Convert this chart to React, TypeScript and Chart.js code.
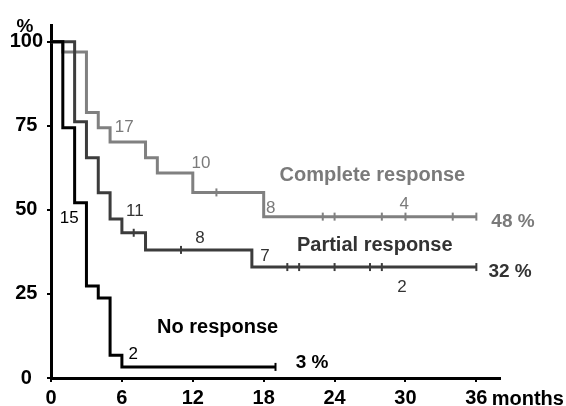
import React, { useEffect, useRef } from "react";
import { Chart, registerables } from "chart.js";

Chart.register(...registerables);

// Axis ticks
const X_TICKS = [0, 6, 12, 18, 24, 30, 36];
const Y_TICKS = [0, 25, 50, 75, 100];

// Complete response (Kaplan-Meier steps: month of drop, survival after drop)
const COMPLETE_MONTHS = [0, 1, 3, 4, 5, 8, 9, 12, 18, 36];
const COMPLETE_SURV = [100, 97, 79, 74.4, 70.2, 65.5, 61, 55.2, 48, 48];
const COMPLETE_CENSORED = [14, 23, 24, 28, 30, 34, 36];

// Partial response
const PARTIAL_MONTHS = [0, 2, 3, 4, 5, 6, 8, 17, 36];
const PARTIAL_SURV = [100, 76.2, 65.5, 55.1, 47.3, 43.2, 38.1, 33, 33];
const PARTIAL_CENSORED = [7, 11, 20, 21, 24, 27, 28, 36];

// No response
const NONE_MONTHS = [0, 1, 2, 3, 4, 5, 6, 19];
const NONE_SURV = [100, 74.4, 52.1, 27.4, 23.8, 6.8, 3.3, 3.3];
const NONE_CENSORED = [19];

// Numbers at risk and labels (text, month, percent)
const COMPLETE_AT_RISK = ["17", "10", "8", "4"];
const COMPLETE_AT_RISK_M = [6.2, 12.7, 18.6, 29.9];
const COMPLETE_AT_RISK_P = [75, 64.3, 50.9, 52.1];

const PARTIAL_AT_RISK = ["11", "8", "7", "2"];
const PARTIAL_AT_RISK_M = [7.1, 12.6, 18.1, 29.7];
const PARTIAL_AT_RISK_P = [50, 42, 36.6, 27.4];

const NONE_AT_RISK = ["15", "2"];
const NONE_AT_RISK_M = [1.55, 6.95];
const NONE_AT_RISK_P = [47.9, 7.4];

const GROUP_NAMES = ["Complete response", "Partial response", "No response"];
const GROUP_NAME_M = [27.2, 27.4, 14.1];
const GROUP_NAME_P = [60.7, 39.9, 15.6];

const FINAL_LABELS = ["48 %", "32 %", "3 %"];
const FINAL_LABEL_M = [39.1, 38.85, 22.1];
const FINAL_LABEL_P = [47, 32.1, 5.1];

const COLORS = ["#808080", "#3c3c3c", "#000000"];
const TEXT_COLORS = ["#7a7a7a", "#333333", "#000000"];
const FONT = '"Liberation Sans", Arial, Helvetica, sans-serif';

function stepValue(months: number[], surv: number[], t: number) {
  let v = surv[0];
  for (let i = 0; i < months.length; i++) if (months[i] <= t) v = surv[i];
  return v;
}

function lineDataset(label: string, months: number[], surv: number[], color: string, order: number) {
  return {
    label,
    data: months.map((m, i) => ({ x: m, y: surv[i] })),
    borderColor: color,
    backgroundColor: color,
    borderWidth: 3,
    pointRadius: 0,
    stepped: "before" as const,
    fill: false,
    clip: false,
    order,
    borderCapStyle: "butt" as const,
    borderJoinStyle: "miter" as const,
  };
}

function censorDataset(label: string, months: number[], surv: number[], censored: number[], color: string, order: number) {
  return {
    label,
    data: censored.map((t) => ({ x: t, y: stepValue(months, surv, t) })),
    showLine: false,
    pointStyle: "line" as const,
    rotation: 90,
    pointRadius: 4,
    pointBorderWidth: 2,
    borderColor: color,
    backgroundColor: color,
    clip: false,
    order,
  };
}

type Annot = { text: string; m: number; p: number; size: number; bold: boolean; color: string; align?: CanvasTextAlign };

function buildAnnotations(): Annot[] {
  const out: Annot[] = [];
  const groups = [
    [COMPLETE_AT_RISK, COMPLETE_AT_RISK_M, COMPLETE_AT_RISK_P],
    [PARTIAL_AT_RISK, PARTIAL_AT_RISK_M, PARTIAL_AT_RISK_P],
    [NONE_AT_RISK, NONE_AT_RISK_M, NONE_AT_RISK_P],
  ] as [string[], number[], number[]][];
  groups.forEach(([t, m, p], g) => {
    t.forEach((s, i) => out.push({ text: s, m: m[i], p: p[i], size: 17, bold: false, color: TEXT_COLORS[g] }));
    out.push({ text: GROUP_NAMES[g], m: GROUP_NAME_M[g], p: GROUP_NAME_P[g], size: 20, bold: true, color: TEXT_COLORS[g] });
    out.push({ text: FINAL_LABELS[g], m: FINAL_LABEL_M[g], p: FINAL_LABEL_P[g], size: 19, bold: true, color: TEXT_COLORS[g] });
  });
  out.push({ text: "%", m: -2.2, p: 105, size: 19, bold: true, color: "#000" });
  out.push({ text: "months", m: 37.3, p: -6, size: 20, bold: true, color: "#000", align: "left" });
  return out;
}

const ANNOTATIONS = buildAnnotations();

const textPlugin = {
  id: "kmText",
  afterDatasetsDraw(chart: any) {
    const { ctx } = chart;
    const xs = chart.scales.x;
    const ys = chart.scales.y;
    ctx.save();
    for (const a of ANNOTATIONS) {
      ctx.font = `${a.bold ? "bold " : ""}${a.size}px ${FONT}`;
      ctx.fillStyle = a.color;
      ctx.textAlign = a.align || "center";
      ctx.textBaseline = "alphabetic";
      const px = xs.getPixelForValue(a.m);
      const py = ys.getPixelForValue(a.p) + a.size * 0.36;
      ctx.fillText(a.text, px, py);
    }
    ctx.restore();
  },
};

export default function App() {
  const ref = useRef<HTMLCanvasElement | null>(null);
  useEffect(() => {
    document.body.style.margin = "0";
    const canvas = ref.current;
    if (!canvas) return;
    const chart = new Chart(canvas, {
      type: "line",
      data: {
        datasets: [
          lineDataset("No response", NONE_MONTHS, NONE_SURV, COLORS[2], 0),
          censorDataset("No response censored", NONE_MONTHS, NONE_SURV, NONE_CENSORED, COLORS[2], 0),
          lineDataset("Partial response", PARTIAL_MONTHS, PARTIAL_SURV, COLORS[1], 1),
          censorDataset("Partial response censored", PARTIAL_MONTHS, PARTIAL_SURV, PARTIAL_CENSORED, COLORS[1], 1),
          lineDataset("Complete response", COMPLETE_MONTHS, COMPLETE_SURV, COLORS[0], 2),
          censorDataset("Complete response censored", COMPLETE_MONTHS, COMPLETE_SURV, COMPLETE_CENSORED, COLORS[0], 2),
        ] as any,
      },
      options: {
        animation: false,
        responsive: false,
        devicePixelRatio: 1,
        layout: { padding: { top: 25, right: 66, bottom: 0, left: 0 } },
        plugins: { legend: { display: false }, tooltip: { enabled: false } },
        scales: {
          x: {
            type: "linear",
            min: 0,
            max: 38,
            afterBuildTicks: (s: any) => {
              s.ticks = X_TICKS.map((v) => ({ value: v }));
            },
            afterFit: (s: any) => {
              s.height = 28;
            },
            grid: { drawOnChartArea: false, drawTicks: true, tickLength: 4, color: "#000", lineWidth: 2 },
            border: { display: true, color: "#000", width: 3 },
            ticks: {
              color: "#000",
              font: { family: FONT, size: 20, weight: "bold" },
              padding: 4,
              maxRotation: 0,
              autoSkip: false,
            },
          },
          y: {
            type: "linear",
            min: 0,
            max: 105,
            afterBuildTicks: (s: any) => {
              s.ticks = Y_TICKS.map((v) => ({ value: v }));
            },
            afterFit: (s: any) => {
              s.width = 51;
            },
            grid: { drawOnChartArea: false, drawTicks: true, tickLength: 4, color: "#000", lineWidth: 2 },
            border: { display: true, color: "#000", width: 3 },
            ticks: {
              color: "#000",
              font: { family: FONT, size: 20, weight: "bold" },
              padding: 4,
              crossAlign: "center",
              autoSkip: false,
            },
          },
        },
      } as any,
      plugins: [textPlugin],
    });
    return () => chart.destroy();
  }, []);
  return (
    <div style={{ width: 566, height: 406, background: "#fff" }}>
      <canvas ref={ref} width={566} height={406} style={{ display: "block" }} />
    </div>
  );
}
